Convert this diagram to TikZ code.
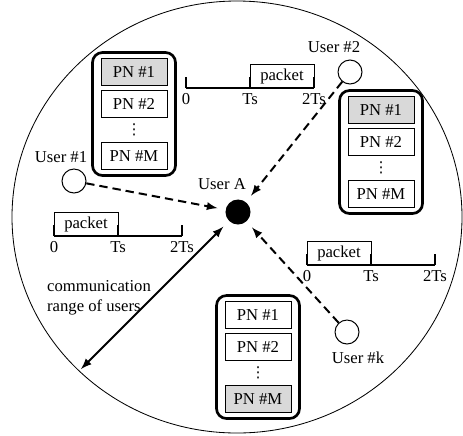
\documentclass[tikz,border=0pt]{standalone}
\usepackage{fontspec}
\setmainfont{Liberation Serif}
\newfontfamily\dvfont{DejaVu Sans}
\usepackage{tikz}

\begin{document}
\begin{tikzpicture}[x=0.6pt, y=-0.6pt,
    user/.style={circle, draw, line width=0.6pt, minimum size=14.4pt, inner sep=0pt},
    stack/.style={draw, line width=1.6pt, rounded corners=6pt, minimum width=49.8pt, minimum height=73.8pt},
    pn/.style={draw, line width=0.6pt, minimum width=39.6pt, minimum height=16.2pt, inner sep=0pt},
    pnsel/.style={pn, fill=gray!30},
    packetbox/.style={draw, line width=0.6pt, minimum width=38.4pt, minimum height=14pt, inner sep=0pt},
    link/.style={line width=1.2pt, dash pattern=on 5pt off 3pt, -latex, shorten >=5pt}]
    \useasboundingbox (0,0) rectangle (463,435);

    % Alcance de comunicacion
    \draw[line width=0.5pt] (237,217) ellipse [x radius=225, y radius=216];

    % Usuarios
    \node[user, fill=black] (A) at (238,212) {};
    \node (lA) at (222,184) {User A};
    \node[user] (u1) at (74,181) {};
    \node (l1) at (61,157) {User \#1};
    \node[user] (u2) at (350,72) {};
    \node (l2) at (334,47) {User \#2};
    \node[user] (uk) at (347,332) {};
    \node (lk) at (358,358) {User \#k};

    % Enlaces hacia User A
    \draw[link] (u1) -- (A);
    \draw[link] (u2) -- (A);
    \draw[link] (uk) -- (A);

    % Radio
    \coordinate (rng) at (81,369);
    \draw[line width=1.2pt, latex-latex, shorten <=5pt] (A) -- (rng);
    \node[align=left] (rlbl) at (99,298) {communication\\range of users};

    % Pilas de PN
    \foreach \n/\cx/\cy/\fa/\fm in {L/134/114/pnsel/pn, R/381/152/pnsel/pn, B/258/357/pn/pnsel} {
        \node[stack] (s\n) at (\cx,\cy) {};
        \node[\fa] (s\n1) at (\cx,\cy-42) {PN \#1};
        \node[pn] (s\n2) at (\cx,\cy-10) {PN \#2};
        \node[inner sep=0pt, font=\dvfont\small] (s\n d) at (\cx,\cy+16) {⋮};
        \node[\fm] (s\n M) at (\cx,\cy+42) {PN \#M};
    }

    % Lineas de tiempo
    \foreach \n/\tx/\ty/\p in {T/186/88/1, L/54/236/0, R/307/265/0} {
        \draw[line width=1.2pt] (\tx,\ty) -- (\tx+128,\ty);
        \foreach \k/\lab in {0/0, 1/Ts, 2/2Ts} {
            \draw[line width=1.2pt] (\tx+64*\k,\ty) -- (\tx+64*\k,\ty-11);
            \node (t\n\k) at (\tx+64*\k,\ty+11) {\lab};
        }
        \node[packetbox] (p\n) at (\tx+64*\p+32,\ty-11.7) {packet};
    }
\end{tikzpicture}
\end{document}
